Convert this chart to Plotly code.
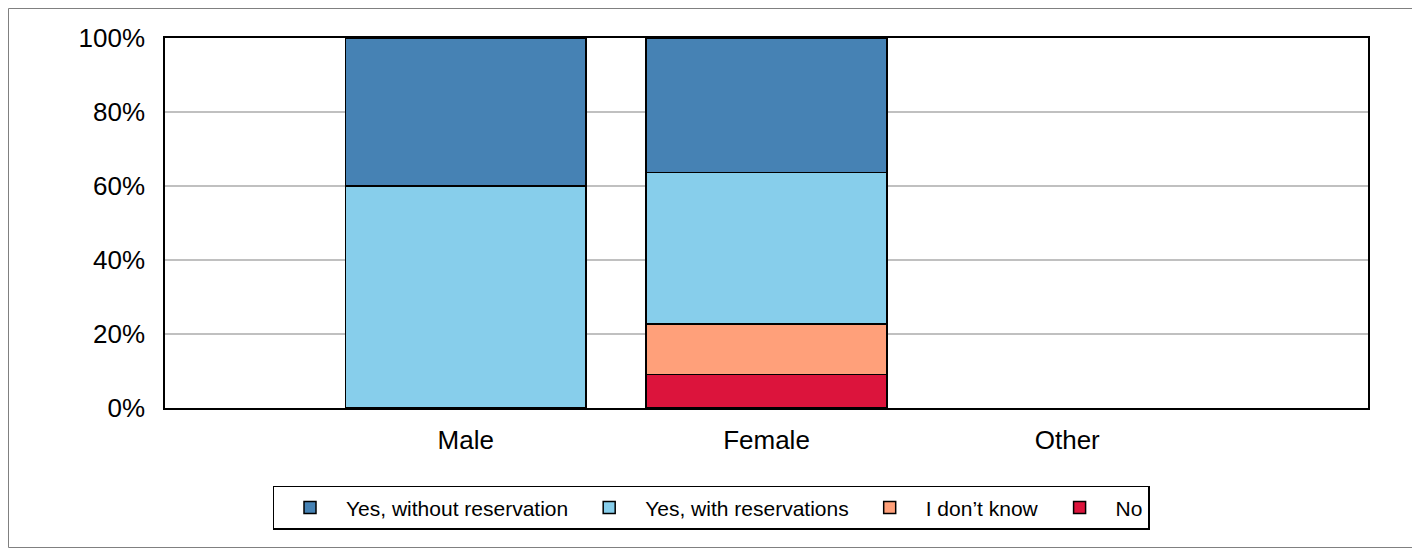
import plotly.graph_objects as go

categories = ["Male", "Female", "Other"]
series_names = ["No", "I don\u2019t know", "Yes, with reservations", "Yes, without reservation"]
no_vals = [0, 9.09, None]
dontknow_vals = [0, 13.64, None]
with_res_vals = [60.0, 40.91, None]
without_res_vals = [40.0, 36.36, None]
colors = ["#DC143C", "#FFA07A", "#87CEEB", "#4682B4"]
y_ticks = [0, 20, 40, 60, 80, 100]
y_tick_labels = ["0%", "20%", "40%", "60%", "80%", "100%"]

series_vals = [no_vals, dontknow_vals, with_res_vals, without_res_vals]

# page body has an 8px margin; figure is sized to fill the rest of the window
W, H = 1412, 540
L, R, T, B = 157, 52, 30, 140
pw, ph = W - L - R, H - T - B

fig = go.Figure()
for i, (name, vals, col) in enumerate(zip(series_names, series_vals, colors)):
    fig.add_trace(go.Bar(
        x=categories, y=vals, name=name,
        marker=dict(color=col, line=dict(color="black", width=1.5)),
        width=0.8, legendrank=1000 - i,
    ))

legend_center_x = (703 - L) / pw

fig.update_layout(
    barmode="stack",
    width=W, height=H,
    margin=dict(l=L, r=R, t=T, b=B),
    plot_bgcolor="white", paper_bgcolor="white",
    font=dict(family="Liberation Sans, Arial, sans-serif", color="black"),
    xaxis=dict(range=[-1, 3], showline=True, linecolor="black", linewidth=1.5, mirror=True,
               tickfont=dict(size=26), ticks="", showgrid=False, ticklabelstandoff=8),
    yaxis=dict(range=[0, 100], tickvals=y_ticks, ticktext=y_tick_labels, showline=True,
               linecolor="black", linewidth=1.5, mirror=True, gridcolor="#C0C0C0", gridwidth=1.5,
               tickfont=dict(size=26), ticks="", zeroline=False, ticklabelstandoff=13),
    legend=dict(orientation="h", x=legend_center_x, xanchor="center", y=-0.27, yanchor="middle",
                bordercolor="black", borderwidth=1.5, font=dict(size=21),
                traceorder="normal", itemwidth=62),
    shapes=[dict(type="rect", xref="paper", yref="paper", x0=-(L - 0.5) / pw, x1=1 + (R - 0.5) / pw,
                 y0=-(B - 0.5) / ph, y1=1 + (T - 0.5) / ph, line=dict(color="#808080", width=1))],
)
fig.write_html("out.html")
